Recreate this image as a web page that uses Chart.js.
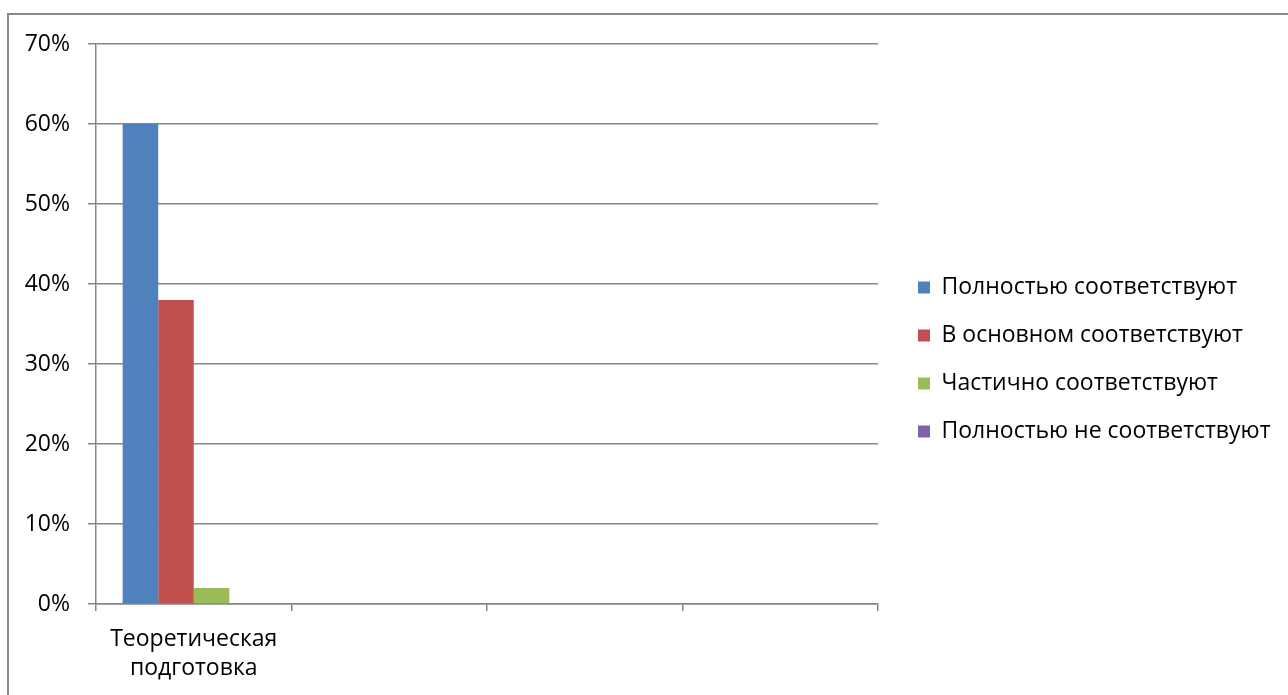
<!DOCTYPE html>
<html lang="ru">
<head>
<meta charset="UTF-8">
<title>Теоретическая подготовка</title>
<script src="https://cdn.jsdelivr.net/npm/chart.js"></script>
<style>
  html, body { margin: 0; padding: 0; background: #fff; overflow: hidden; }
  .moldura { position: absolute; left: 7px; top: 13px; width: 1400px; height: 800px; border: 2px solid #898989; }
  .grafico { position: absolute; left: 0; top: 0; width: 1288px; height: 695px; }
</style>
</head>
<body>
<div class="moldura"></div>
<div class="grafico"><canvas id="grafico1"></canvas></div>

<script>
// categorias (so a primeira tem nome)
const categorias = [['Теоретическая', 'подготовка'], '', '', ''];
const series = [
  'Полностью соответствуют',
  'В основном соответствуют',
  'Частично соответствуют',
  'Полностью не соответствуют'
];
const cores = ['#4F81BD', '#C0504D', '#9BBB59', '#8064A2'];
// valores em %
const polnostyu = [60, null, null, null];
const vOsnovnom = [38, null, null, null];
const chastichno = [2, null, null, null];
const neSootv = [0, null, null, null];
const yMin = 0, yMax = 70, yPasso = 10;

const cinza = '#868686';
const fonte = { family: 'Open Sans', size: 23 };

const valores = [polnostyu, vOsnovnom, chastichno, neSootv];

const data = {
  labels: categorias,
  datasets: series.map((nome, i) => ({
    label: nome,
    data: valores[i],
    backgroundColor: cores[i],
    borderWidth: 0,
    categoryPercentage: 4 / 5.5,
    barPercentage: 1
  }))
};

// legenda com largura fixa + deslocamento
const ajusteLegenda = {
  id: 'ajusteLegenda',
  beforeLayout(chart) {
    const lg = chart.legend;
    if (lg && !lg._patched) {
      const fitOrig = lg.fit;
      lg.fit = function () { fitOrig.call(this); this.width = 410; };
      lg._patched = true;
    }
  },
  afterLayout(chart) {
    chart.legend.left += 15;
    chart.legend.right += 15;
    chart.legend.top -= 10;
    chart.legend.bottom -= 10;
  }
};

const config = {
  type: 'bar',
  data: data,
  options: {
    responsive: true,
    maintainAspectRatio: false,
    animation: false,
    layout: { padding: { top: 44, left: 0, right: 0, bottom: 0 } },
    plugins: {
      legend: {
        position: 'right',
        labels: {
          boxWidth: 12,
          boxHeight: 12,
          padding: 25,
          color: '#000',
          font: fonte
        }
      },
      tooltip: { enabled: false }
    },
    scales: {
      x: {
        afterFit: s => { s.height = 91; },
        grid: {
          display: true,
          drawOnChartArea: false,
          drawTicks: true,
          tickLength: 7,
          color: cinza,
          lineWidth: 1.5,
          offset: true
        },
        border: { display: true, color: cinza, width: 1.5 },
        ticks: {
          color: '#000',
          font: { family: 'Open Sans', size: 23, lineHeight: 1.27 },
          padding: 14,
          maxRotation: 0,
          autoSkip: false
        }
      },
      y: {
        min: yMin,
        max: yMax,
        afterFit: s => { s.width = 96; },
        grid: { color: cinza, lineWidth: 1.5, tickLength: 8 },
        border: { display: true, color: cinza, width: 1.5 },
        ticks: {
          stepSize: yPasso,
          color: '#000',
          font: fonte,
          padding: 18,
          callback: v => v + '%'
        }
      }
    }
  },
  plugins: [ajusteLegenda]
};

let grafico = new Chart(document.getElementById('grafico1'), config);
</script>
</body>
</html>
